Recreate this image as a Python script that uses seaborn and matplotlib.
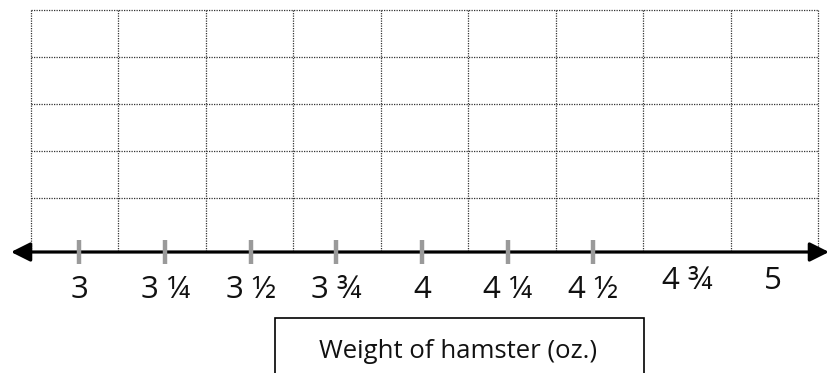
import numpy as np
import pandas as pd
import seaborn as sns
import matplotlib.pyplot as plt
from matplotlib.patches import Rectangle
from matplotlib.transforms import offset_copy

# number line values
tick_values = [3, 3.25, 3.5, 3.75, 4, 4.25, 4.5]
label_values = [3, 3.25, 3.5, 3.75, 4, 4.25, 4.5, 4.75, 5]
label_text = ["3", "3 ¼", "3 ½", "3 ¾", "4", "4 ¼", "4 ½", "4 ¾", "5"]
axis_title = "Weight of hamster (oz.)"

W, H = 830, 373
sns.set_theme(style="white")
plt.rcParams["font.family"] = ["Open Sans", "DejaVu Sans"]

fig = plt.figure(figsize=(W / 100, H / 100), dpi=100)
ax = fig.add_axes([0, 0, 1, 1])
ax.set_axis_off()

# pixel mapping: 3.75 sits at ~336 px, 0.25 oz ~ 85.7 px
px_per_unit = 342.7
x0 = 3.75 - 336.4 / px_per_unit
ax.set_xlim(x0, x0 + W / px_per_unit)
ax.set_ylim(H, 0)

# dotted grid above the line
gx = np.linspace(31, 818, 10) / W
gy = [10, 57, 104, 151, 198]
for x in gx:
    ax.plot([x, x], [1 - 10 / H, 1 - 252 / H], transform=ax.transAxes,
            color="#333333", lw=0.9, ls=(0, (1, 1)))
for y in gy:
    ax.plot([gx[0], gx[-1]], [1 - y / H, 1 - y / H], transform=ax.transAxes,
            color="#333333", lw=0.9, ls=(0, (1, 1)))

# number line with arrows
axis_y = 252
ax.annotate("", xy=(x0 + 829 / px_per_unit, axis_y), xytext=(x0 + 11 / px_per_unit, axis_y),
            arrowprops=dict(arrowstyle="<|-|>", mutation_scale=29, lw=2.3,
                            color="black", shrinkA=0, shrinkB=0))

# tick marks
ticks = pd.DataFrame({"x": tick_values, "y": [axis_y] * len(tick_values)})
sns.scatterplot(data=ticks, x="x", y="y", marker="|", s=280, color="#9a9a9a",
                linewidths=3.2, ax=ax, zorder=3, legend=False)

# labels, last two sit a bit higher and to the right
for v, t in zip(label_values, label_text):
    if v > 4.5:
        tr = offset_copy(ax.transData, fig=fig, x=8, y=9, units="dots")
    else:
        tr = ax.transData
    ax.text(v, 298, t, transform=tr, ha="center", va="baseline",
            fontsize=22.5, color="#111111")

# boxed axis title
fig.patches.append(Rectangle((275 / W, -0.05), (644 - 275) / W, 0.05 + 1 - 318 / H,
                             transform=fig.transFigure, fill=False,
                             edgecolor="black", lw=1.2))
fig.text(458 / W, 1 - 358 / H, axis_title, ha="center", va="baseline",
         fontsize=18.5, color="#111111")

fig.savefig("out.png", dpi=100)
